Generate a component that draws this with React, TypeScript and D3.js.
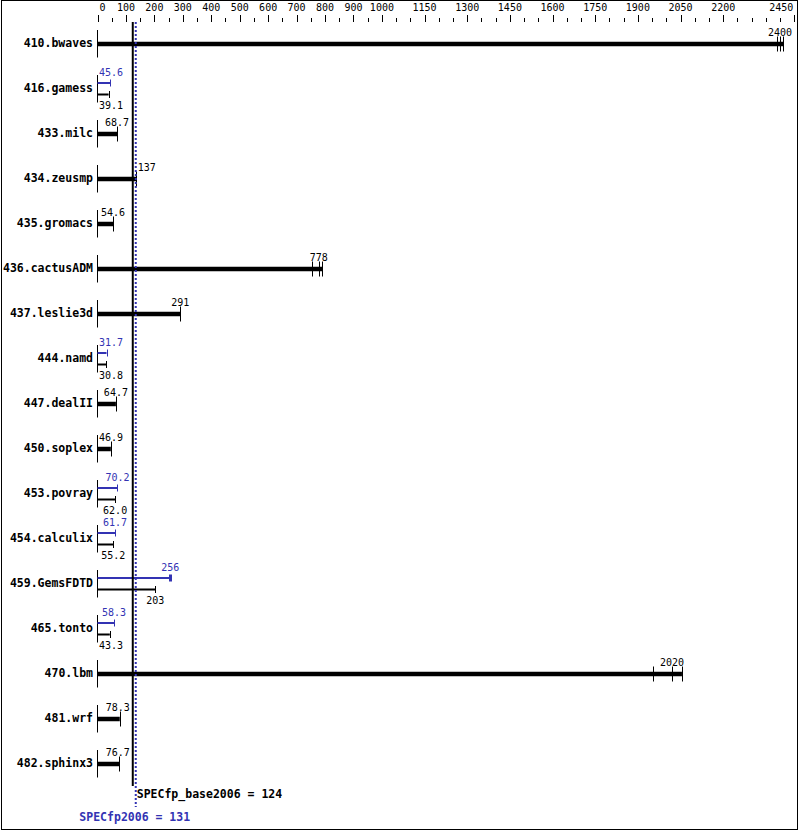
import React from 'react';
import * as d3 from 'd3';

// benchmark names, runs (base / peak) and medians
const benchmarks = [
  '410.bwaves', '416.gamess', '433.milc', '434.zeusmp', '435.gromacs',
  '436.cactusADM', '437.leslie3d', '444.namd', '447.dealII', '450.soplex',
  '453.povray', '454.calculix', '459.GemsFDTD', '465.tonto', '470.lbm',
  '481.wrf', '482.sphinx3'
];
const baseMedian = [2400, 39.1, 68.7, 137, 54.6, 778, 291, 30.8, 64.7, 46.9, 62.0, 55.2, 203, 43.3, 2020, 78.3, 76.7];
const baseRuns = [
  [2388, 2400, 2412], [39.1], [68.7], [137], [54.6],
  [755, 778, 790], [291], [30.8], [64.7], [46.9],
  [62.0], [55.2], [203], [43.3], [1954, 2020, 2055],
  [78.3], [76.7]
];
const peakMedian: (number | null)[] = [null, 45.6, null, null, null, null, null, 31.7, null, null, 70.2, 61.7, 256, 58.3, null, null, null];
const peakRuns: (number[] | null)[] = [null, [45.6], null, null, null, null, null, [31.7], null, null, [70.2], [61.7], [252, 256, 258], [58.3], null, null, null];

const tickLabels = [0, 100, 200, 300, 400, 500, 600, 700, 800, 900, 1000, 1150, 1300, 1450, 1600, 1750, 1900, 2050, 2200, 2450];
const minorTicks = d3.range(50, 2450, 50).filter(v => tickLabels.indexOf(v) < 0);

const specBase = 124;
const specPeak = 131;

const BLUE = '#3333b3';
const MONO = '"DejaVu Sans Mono", "Liberation Mono", monospace';

export default function App() {
  const width = 799, height = 831;
  const x = d3.scaleLinear().domain([0, 2450]).range([97.5, 794.3]);
  const rowY = (i: number) => 44 + 45 * i;
  const refL = x(specBase) - 3, refR = x(specPeak) + 2;

  // value label placement: centred on median, kept right of the axis and off the reference lines
  function labelX(v: number) {
    const s = v >= 100 ? String(Math.round(v)) : v.toFixed(1);
    const w = s.length * 6.02;
    let start = Math.max(x(v) - w / 2, 99);
    if (start < refR && start + w > refL) {
      const left = (start + w) - refL;
      const right = refR + 1 - start;
      start = left <= right ? start - left : start + right;
    }
    return { s, start };
  }

  return (
    <svg width={width} height={height} style={{ position: 'absolute', left: 0, top: 0, background: '#fff' }}>
      <rect x={1.5} y={0.5} width={796} height={829} fill="#fff" stroke="#000" />

      {/* top axis */}
      <g fontFamily={MONO} fontSize={10}>
        {tickLabels.map((t, i) => {
          const last = i === tickLabels.length - 1;
          const first = i === 0;
          return (
            <g key={t}>
              <line x1={Math.round(x(t)) + 0.5} x2={Math.round(x(t)) + 0.5} y1={15} y2={22} stroke="#000" />
              <text x={first ? x(t) + 2 : x(t) - (last ? 1 : 0)} y={10.5}
                textAnchor={first ? 'start' : last ? 'end' : 'middle'}>{t}</text>
            </g>
          );
        })}
        {minorTicks.map(t => (
          <line key={t} x1={Math.round(x(t)) + 0.5} x2={Math.round(x(t)) + 0.5} y1={18} y2={22} stroke="#000" />
        ))}
      </g>

      {/* rows */}
      {benchmarks.map((b, i) => {
        const c = rowY(i);
        const x0 = x(0);
        const hasPeak = peakRuns[i] !== null;
        const bl = labelX(baseMedian[i]);
        return (
          <g key={b}>
            <text x={93} y={c + 3} textAnchor="end" fontFamily={MONO} fontWeight="bold" fontSize={11.5}>{b}</text>
            <line x1={x0} x2={x0} y1={c - 14} y2={c + 13.5} stroke="#000" />
            {!hasPeak && (
              <g>
                <line x1={x0} x2={x(d3.max(baseRuns[i])!)} y1={c} y2={c} stroke="#000" strokeWidth={4.5} />
                {baseRuns[i].map((r, k) => (
                  <line key={k} x1={Math.round(x(r)) + 0.5} x2={Math.round(x(r)) + 0.5} y1={c - 7.5} y2={c + 7.5} stroke="#000" />
                ))}
                <text x={bl.start} y={c - 8} fontFamily={MONO} fontSize={10}>{bl.s}</text>
              </g>
            )}
            {hasPeak && (() => {
              const pl = labelX(peakMedian[i]!);
              const yp = c - 6, yb = c + 5.5;
              return (
                <g>
                  <line x1={x0} x2={x(d3.max(peakRuns[i]!)!)} y1={yp} y2={yp} stroke={BLUE} strokeWidth={2} />
                  {peakRuns[i]!.map((r, k) => (
                    <line key={k} x1={Math.round(x(r)) + 0.5} x2={Math.round(x(r)) + 0.5} y1={yp - 3.5} y2={yp + 3.5} stroke={BLUE} />
                  ))}
                  <text x={pl.start} y={c - 13.3} fontFamily={MONO} fontSize={10} fill={BLUE}>{pl.s}</text>
                  <line x1={x0} x2={x(d3.max(baseRuns[i])!)} y1={yb} y2={yb} stroke="#000" strokeWidth={2} />
                  {baseRuns[i].map((r, k) => (
                    <line key={k} x1={Math.round(x(r)) + 0.5} x2={Math.round(x(r)) + 0.5} y1={yb - 3.5} y2={yb + 3.5} stroke="#000" />
                  ))}
                  <text x={bl.start} y={c + 20} fontFamily={MONO} fontSize={10}>{bl.s}</text>
                </g>
              );
            })()}
          </g>
        );
      })}

      {/* reference lines */}
      <line x1={x(specBase)} x2={x(specBase)} y1={22} y2={786} stroke="#000" strokeWidth={2} />
      <line x1={x(specPeak) + 1} x2={x(specPeak) + 1} y1={22} y2={807} stroke={BLUE} strokeWidth={2} strokeDasharray="2,2" />
      <text x={x(specPeak) + 2} y={798} fontFamily={MONO} fontWeight="bold" fontSize={11.5}>SPECfp_base2006 = {specBase}</text>
      <text x={x(specPeak)} y={820.5} textAnchor="middle" fontFamily={MONO} fontWeight="bold" fontSize={11.5} fill={BLUE}>SPECfp2006 = {specPeak}</text>
    </svg>
  );
}
